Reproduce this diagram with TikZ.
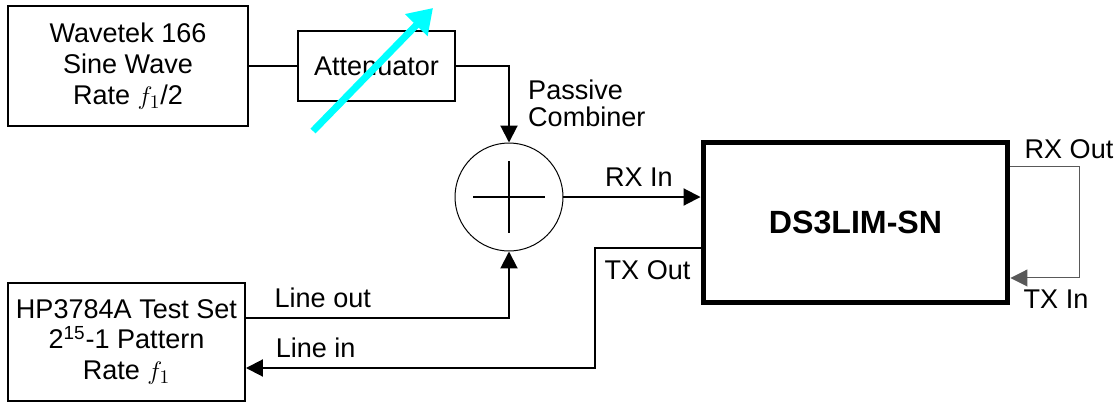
\documentclass[tikz,border=0pt]{standalone}
\usepackage{fontspec}
\setmainfont{Liberation Sans}
\usetikzlibrary{arrows.meta}
\definecolor{knobcyan}{RGB}{0,255,255}

\begin{document}
\begin{tikzpicture}[x=0.02cm, y=-0.02cm, >={Triangle[length=0.34cm,width=0.34cm]},
	font=\fontsize{15.4}{17.6}\selectfont,
	box/.style={draw, line width=0.04cm, align=center, inner sep=0pt},
	wire/.style={line width=0.04cm}]
%	\draw [help lines] (0,0) grid (1120,403);
	\useasboundingbox (0,0) rectangle (1120,403);
	\node [box, minimum width=4.8cm, minimum height=2.4cm] (wave) at (128,66) {Wavetek 166\\Sine Wave\\Rate $f_1$/2};
	\node [box, minimum width=3.14cm, minimum height=1.4cm] (att) at (376.5,66) {Attenuator};
	\node [draw, circle, minimum size=2.16cm, inner sep=0pt, line width=0.02cm] (comb) at (509,197) {};
	\node [box, line width=0.1cm, minimum width=6.1cm, minimum height=3.22cm, font=\fontsize{18.3}{22}\selectfont\bfseries] (dut) at (855.5,222.5) {DS3LIM-SN};
	\node [box, minimum width=4.74cm, minimum height=2.36cm] (hp) at (126.5,342) {HP3784A Test Set\\2\textsuperscript{15}-1 Pattern\\Rate $f_1$};
	% adjustable attenuator
	\coordinate (knoblow) at (313,131);
	\coordinate (knobtip) at (433,8);
	\draw [knobcyan, line width=0.14cm, -{Triangle[length=0.48cm,width=0.6cm]}] (knoblow) -- (knobtip);
	% cross in the combiner
	\draw [wire] ([xshift=-0.72cm]comb.center) -- ([xshift=0.72cm]comb.center);
	\draw [wire] ([yshift=-0.72cm]comb.center) -- ([yshift=0.72cm]comb.center);
	% connections
	\draw [wire] (wave.east) -- (att.west);
	\draw [wire, ->] (att.east) -| (comb.north);
	\draw [wire, ->] (comb.east) -- (comb.east -| dut.west) node [pos=0.55, above=2pt] {RX In};
	\draw [wire, ->] ([yshift=0.48cm]hp.east) -| (comb.south) node [pos=0.146, above=2pt] {Line out};
	\draw [wire, ->] ([yshift=-0.51cm]dut.west) -- ++(-106,0) node [pos=0.5, below=3pt] {TX Out} |- ([yshift=-0.52cm]hp.east) node [pos=0.9, above=2pt] {Line in};
	\draw [black!65, line width=0.02cm, ->] ([yshift=1.13cm]dut.east) -- ++(69,0) |- ([yshift=-1.11cm]dut.east);
	% labels
	\node [align=left, anchor=west, font=\fontsize{15.4}{15.4}\selectfont] (passive) at (522,103) {Passive\\Combiner};
	\node (rxout) at (1069,149) {RX Out};
	\node (txin) at (1056,299) {TX In};
\end{tikzpicture}
\end{document}
